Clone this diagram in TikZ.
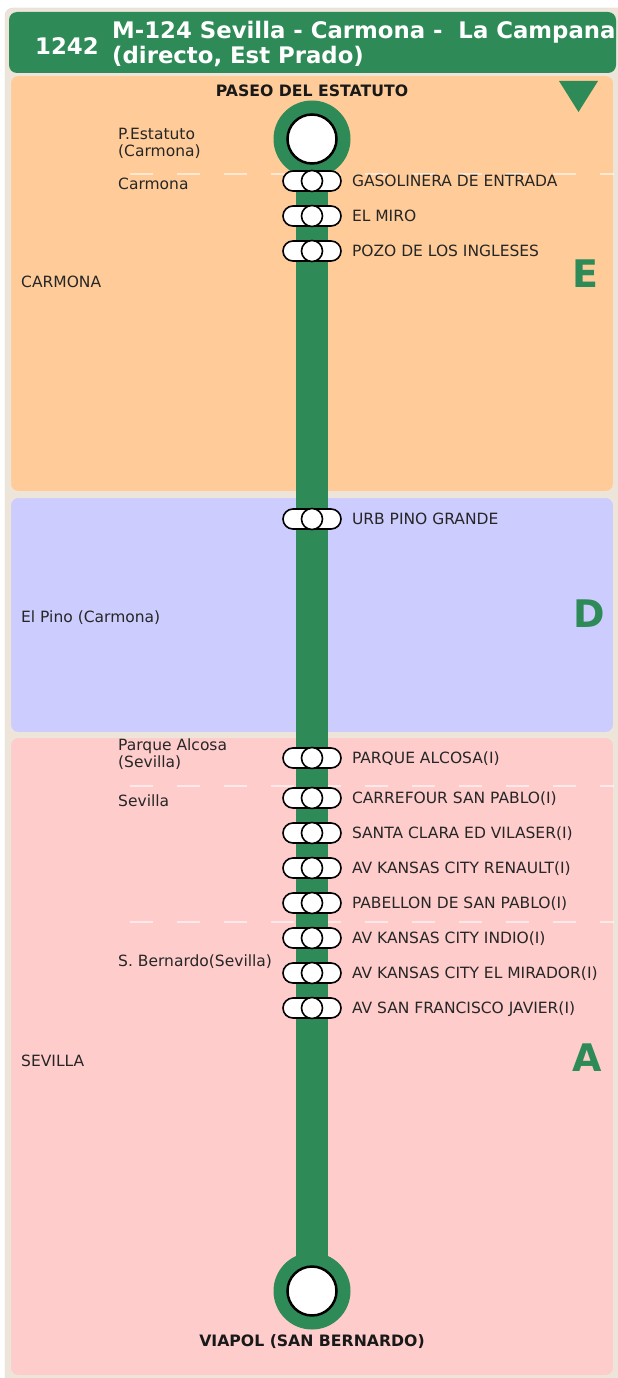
\documentclass[tikz,border=0pt]{standalone}
\usepackage{fontspec}
\setmainfont{DejaVu Sans}
\usetikzlibrary{positioning}
\definecolor{lgreen}{RGB}{46,139,87}
\definecolor{zonee}{RGB}{255,204,153}
\definecolor{zoned}{RGB}{204,204,255}
\definecolor{zonea}{RGB}{255,204,204}
\definecolor{beige}{RGB}{238,229,218}

\begin{document}
\begin{tikzpicture}[x=1pt,y=-1pt,
  panel/.style={draw=beige,line width=2pt,rounded corners=8pt},
  pill/.style={draw,fill=white,line width=1.6pt,rounded corners=10pt,minimum width=58pt,minimum height=20pt,inner sep=0pt},
  hole/.style={draw,fill=white,circle,line width=1.6pt,minimum size=21pt,inner sep=0pt},
  term/.style={circle,fill=lgreen,minimum size=77pt,inner sep=0pt},
  termhole/.style={circle,draw,fill=white,line width=2.5pt,minimum size=49pt,inner sep=0pt},
  lbl/.style={inner sep=0pt,text height=11pt,text depth=0pt,font=\fontsize{15.5}{17}\selectfont,text=black!85},
  lbl2/.style={anchor=north west,inner sep=0pt,align=left,font=\fontsize{15.5}{17}\selectfont,text=black!85},
  endname/.style={anchor=base,inner sep=0pt,font=\fontsize{15.7}{17}\selectfont\bfseries,text=black!90},
  head/.style={inner sep=0pt,text=white,font=\fontsize{22.8}{25}\selectfont\bfseries},
  zone/.style={anchor=base east,inner sep=0pt,text=lgreen,font=\fontsize{38}{40}\selectfont\bfseries},
  sep/.style={white,opacity=.55,line width=2pt,dash pattern=on 23pt off 24pt}]

\clip (0,0) rectangle (618,1378);
\fill[white] (0,0) rectangle (618,1378);
\filldraw[fill=beige,draw=black!15,rounded corners=8pt] (5,8) rectangle (630,1390);

\fill[lgreen,rounded corners=8pt] (9,12) rectangle (616,73);
\draw[panel,fill=zonee] (10,75) rectangle (614,492);
\draw[panel,fill=zoned] (10,497) rectangle (614,733);
\draw[panel,fill=zonea] (10,737) rectangle (614,1376);

\begin{scope}
\clip[rounded corners=8pt] (9,12) rectangle (615,73);
\node[head,anchor=base west] (num) at (35,55) {1242};
\node[head,anchor=north west,align=left] (title) at (112,21) {M-124 Sevilla - Carmona -\ \ La Campana\\(directo, Est Prado)};
\end{scope}

\fill[lgreen] (559,81) -- (598,81) -- (578.5,112) -- cycle;

\foreach \y in {174,786,922}
	\draw[sep] (130,\y) -- (614,\y);

\coordinate (a) at (312,139);
\coordinate (b) at (312,1291);
\draw[lgreen,line width=32pt] (a) -- (b);
\node[term] (ta) at (a) {};
\node[termhole] (ha) at (a) {};
\node[term] (tb) at (b) {};
\node[termhole] (hb) at (b) {};

\node[endname] (na) at (312,96.5) {PASEO DEL ESTATUTO};
\node[endname] (nb) at (312,1346.5) {VIAPOL (SAN BERNARDO)};

\foreach[count=\c] \y/\t in {181/GASOLINERA DE ENTRADA,216/EL MIRO,251/POZO DE LOS INGLESES,519/URB PINO GRANDE,758/PARQUE ALCOSA(I),798/CARREFOUR SAN PABLO(I),833/SANTA CLARA ED VILASER(I),868/AV KANSAS CITY RENAULT(I),903/PABELLON DE SAN PABLO(I),938/AV KANSAS CITY INDIO(I),973/AV KANSAS CITY EL MIRADOR(I),1008/AV SAN FRANCISCO JAVIER(I)}{
	\node[pill] (s\c) at (312,\y) {};
	\node[hole] (h\c) at (s\c) {};
	\node[lbl,right=10pt of s\c] (l\c) {\t};
}

\foreach[count=\c] \x/\y/\t in {118/184/Carmona,21/282/CARMONA,21/617/El Pino (Carmona),118/801/Sevilla,118/961/S. Bernardo(Sevilla),21/1061/SEVILLA}
	\node[lbl,anchor=west] (m\c) at (\x,\y) {\t};
\node[lbl2] (p1) at (118,127.5) {P.Estatuto\\(Carmona)};
\node[lbl2] (p2) at (118,739) {Parque Alcosa\\(Sevilla)};

\node[zone] (ze) at (599,287) {E};
\node[zone] (zd) at (605,627) {D};
\node[zone] (za) at (602,1071) {A};

\end{tikzpicture}
\end{document}
